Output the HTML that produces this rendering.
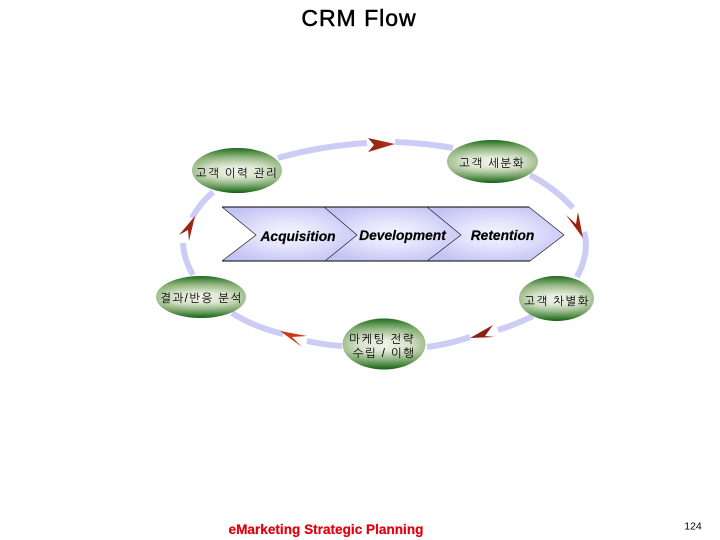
<!DOCTYPE html>
<html><head><meta charset="utf-8">
<style>
html,body{margin:0;padding:0;background:#fff;width:720px;height:540px;overflow:hidden}
svg{display:block}
.k{font-family:"Liberation Sans","NanumGothic","Noto Sans CJK KR",sans-serif;font-size:11.5px;fill:#000;text-anchor:middle;letter-spacing:1.4px}
.c{font-family:"Liberation Sans",sans-serif;font-size:13.8px;font-weight:bold;font-style:italic;fill:#000;stroke:#000;stroke-width:.2;text-anchor:middle}
</style></head><body>
<svg width="720" height="540" viewBox="0 0 720 540" xmlns="http://www.w3.org/2000/svg">
<defs>
<radialGradient id="g1" cx="50%" cy="50%" r="60%">
<stop offset="0" stop-color="#f0f3e8"/><stop offset=".5" stop-color="#d8e2cc"/><stop offset=".8" stop-color="#a8c296"/><stop offset="1" stop-color="#7ea56c"/>
</radialGradient>
<linearGradient id="g2" x1="0" y1="0" x2="0" y2="1">
<stop offset="0" stop-color="#1c6a1c"/><stop offset=".22" stop-color="#6a9e58" stop-opacity=".55"/><stop offset=".42" stop-color="#7aa868" stop-opacity="0"/><stop offset=".62" stop-color="#7aa868" stop-opacity="0"/><stop offset=".82" stop-color="#4f8c44" stop-opacity=".6"/><stop offset="1" stop-color="#116011"/>
</linearGradient>
<radialGradient id="b" cx="50%" cy="50%" r="58%">
<stop offset="0" stop-color="#f6f6ff"/><stop offset=".45" stop-color="#e2e2fc"/><stop offset="1" stop-color="#c2c2f4"/>
</radialGradient>
<linearGradient id="r1" x1="0" y1="0" x2="1" y2="0"><stop offset="0" stop-color="#8c2410"/><stop offset="1" stop-color="#b8301a"/></linearGradient>
</defs>

<g fill="none" stroke="#ccccf6" stroke-width="6">
<path d="M278 158Q320 146 367 143"/>
<path d="M395 142Q425 143 453 148"/>
<path d="M530 175Q556 189 573 208"/>
<path d="M584 232Q590 252 577 277"/>
<path d="M213 192Q200 203 192 218"/>
<path d="M183 243Q184 260 193 275"/>
<path d="M232 313Q254 327 283 334"/>
<path d="M307 341Q325 345 342 346"/>
<path d="M427 347Q450 344 470 337"/>
<path d="M498 330Q517 324 533 316"/>
</g>

<polygon points="368,138 395,144 368,152 374,145" fill="url(#r1)"/>
<polygon points="195,216 179,235 188,230 189,241" fill="#9a2a14"/>
<polygon points="566,215 576,224 578,212 583,238" fill="#96240f"/>
<polygon points="280,331 307,336 292,337 302,347" fill="#cf3616"/>
<polygon points="470,338 493,325 485,336 495,337" fill="#8a2010"/>

<g fill="url(#b)">
<polygon points="222,207 324,207 357,235 325,261 222,261 256,235"/>
<polygon points="324,207 427,207 461,235 427,261 325,261 357,235"/>
<polygon points="427,207 529,207 564,235 530,261 427,261 461,235"/>
</g>
<g fill="none" stroke="#000" stroke-width="1">
<path d="M222 207H529M222 261H530"/>
</g>
<g fill="none" stroke="#222" stroke-width=".7">
<path d="M222 207L256 235L222 261M324 207L357 235L325 261M427 207L461 235L427 261M529 207L564 235L530 261"/>
</g>
<text class="c" x="298" y="241">Acquisition</text>
<text class="c" x="402.500" y="240">Development</text>
<text class="c" x="502.500" y="240">Retention</text>

<g>
<ellipse cx="237" cy="170.500" rx="45" ry="22.500" fill="url(#g1)"/><ellipse cx="237" cy="170.500" rx="45" ry="22.500" fill="url(#g2)"/>
<ellipse cx="492.500" cy="161.500" rx="45.500" ry="21.500" fill="url(#g1)"/><ellipse cx="492.500" cy="161.500" rx="45.500" ry="21.500" fill="url(#g2)"/>
<ellipse cx="201" cy="297" rx="45" ry="21" fill="url(#g1)"/><ellipse cx="201" cy="297" rx="45" ry="21" fill="url(#g2)"/>
<ellipse cx="556.500" cy="298.500" rx="37.500" ry="22.500" fill="url(#g1)"/><ellipse cx="556.500" cy="298.500" rx="37.500" ry="22.500" fill="url(#g2)"/>
<ellipse cx="384" cy="344" rx="41.500" ry="25.500" fill="url(#g1)"/><ellipse cx="384" cy="344" rx="41.500" ry="25.500" fill="url(#g2)"/>
</g>

<text class="k" x="237" y="177">고객 이력 관리</text>
<text class="k" x="492" y="167">고객 세분화</text>
<text class="k" x="201.500" y="302">결과/반응 분석</text>
<text class="k" x="557" y="305">고객 차별화</text>
<text class="k" x="382" y="343">마케팅 전략</text>
<text class="k" x="384" y="357">수립 / 이행</text>

<text x="359" y="26" font-family="'Liberation Sans',sans-serif" font-size="23" fill="#000" stroke="#000" stroke-width=".5" text-anchor="middle" letter-spacing="1">CRM Flow</text>
<text x="326" y="534" font-family="'Liberation Sans',sans-serif" font-size="13.6" font-weight="bold" fill="#e0000c" stroke="#e0000c" stroke-width=".2" text-anchor="middle">eMarketing Strategic Planning</text>
<text x="693" y="529.500" font-family="'Liberation Sans',sans-serif" font-size="10.500" fill="#000" text-anchor="middle">124</text>
</svg>
</body></html>
